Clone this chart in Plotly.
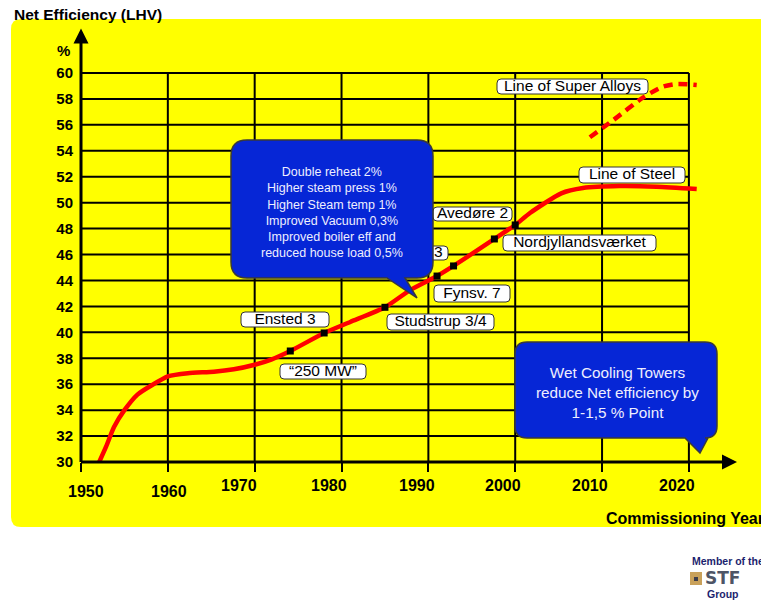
import plotly.graph_objects as go

# ------------------------------------------------------------------ data
steel_years = [1952.1, 1952.9, 1953.8, 1955.0, 1956.5, 1958.1, 1960.0, 1962.3, 1965.3,
               1967.6, 1970.0, 1971.9, 1974.1, 1978.0, 1981.0, 1985.0, 1987.9, 1991.0,
               1992.9, 1997.6, 2000.0, 2001.7, 2005.3, 2007.8, 2012.0, 2016.3, 2020.9]
steel_eff = [30.0, 31.2, 32.7, 34.0, 35.2, 35.9, 36.6, 36.85, 36.96,
             37.15, 37.5, 37.9, 38.56, 39.95, 40.8, 41.93, 43.26, 44.34,
             45.12, 47.2, 48.28, 49.2, 50.72, 51.13, 51.28, 51.23, 51.05]

alloy_years = [2008.6, 2011.3, 2014.7, 2017.0, 2018.6, 2020.9]
alloy_eff = [55.04, 56.37, 58.1, 58.94, 59.15, 59.07]

plant_years = [1974.1, 1978.0, 1985.0, 1991.0, 1992.9, 1997.6, 2000.0]
plant_eff = [38.56, 39.95, 41.93, 44.34, 45.12, 47.2, 48.28]

label_texts = ["Line of Super Alloys", "Line of Steel", "Avedøre 2", "Esbjerg 3",
               "Nordjyllandsværket", "Fynsv. 7", "Studstrup 3/4", "Ensted 3", "\u201c250 MW\u201d"]

year_ticks = [1950, 1960, 1970, 1980, 1990, 2000, 2010, 2020]
year_labels = ["1950", "1960", "1970", "1980", "1990", "2000", "2010", "2020"]
eff_ticks = [30, 32, 34, 36, 38, 40, 42, 44, 46, 48, 50, 52, 54, 56, 58, 60]
eff_labels = ["30", "32", "34", "36", "38", "40", "42", "44", "46", "48",
              "50", "52", "54", "56", "58", "60"]

callout1_text = ("Double reheat 2%<br>Higher steam press 1%<br>Higher Steam temp 1%<br>"
                 "Improved Vacuum 0,3%<br>Improved boiler eff and<br>reduced house load 0,5%")
callout2_text = "Wet Cooling Towers<br>reduce Net efficiency by<br>1-1,5 % Point"

# ------------------------------------------------------------------ layout geometry (pixels)
W, H = 761, 600
L, R, T, B = 81, 20, 28, 138
PW, PH = W - L - R, H - T - B
X_RANGE = [1950, 2026]
Y_RANGE = [30, 30 + PH / 12.967]

def xd(px):
    return X_RANGE[0] + (px - L) * (X_RANGE[1] - X_RANGE[0]) / PW

def yd(py):
    return Y_RANGE[0] + (H - B - py) * (Y_RANGE[1] - Y_RANGE[0]) / PH

def xp(px):
    return (px - L) / PW

def yp(py):
    return (H - B - py) / PH

def rpath(x0, y0, x1, y1, r, fx, fy, tail=None):
    p = f"M{fx(x0 + r)},{fy(y0)} L{fx(x1 - r)},{fy(y0)} Q{fx(x1)},{fy(y0)} {fx(x1)},{fy(y0 + r)}"
    p += f" L{fx(x1)},{fy(y1 - r)} Q{fx(x1)},{fy(y1)} {fx(x1 - r)},{fy(y1)}"
    if tail:
        br, tx, ty, bl = tail
        p += f" L{fx(br)},{fy(y1)} L{fx(tx)},{fy(ty)} L{fx(bl)},{fy(y1)}"
    p += f" L{fx(x0 + r)},{fy(y1)} Q{fx(x0)},{fy(y1)} {fx(x0)},{fy(y1 - r)}"
    p += f" L{fx(x0)},{fy(y0 + r)} Q{fx(x0)},{fy(y0)} {fx(x0 + r)},{fy(y0)} Z"
    return p

FONT = "Arial, Liberation Sans, sans-serif"
BLUE = "#0626D6"
LIGHT = "#EEEEFF"

# label boxes in pixels (x0, y0, x1, y1)
label_boxes = [(497, 79, 648, 94), (579, 167, 685, 183), (433, 207, 512, 221),
               (372, 246, 448, 260), (503, 235, 656, 251), (434, 285, 510, 302),
               (387, 314, 494, 330), (241, 312, 329, 327), (280, 364, 366, 379)]

shapes = []
# yellow panel
shapes.append(dict(type="path", xref="paper", yref="paper", layer="below",
                   path=rpath(11, 19, 790, 527, 10, xp, yp),
                   fillcolor="#FFFF00", line=dict(width=0)))
# grid
for v in eff_ticks[1:]:
    shapes.append(dict(type="line", xref="x", yref="y", layer="below",
                       x0=year_ticks[0], x1=year_ticks[-1], y0=v, y1=v,
                       line=dict(color="black", width=2)))
for v in year_ticks[1:]:
    shapes.append(dict(type="line", xref="x", yref="y", layer="below",
                       x0=v, x1=v, y0=eff_ticks[0], y1=eff_ticks[-1],
                       line=dict(color="black", width=2)))
# label boxes
for (x0, y0, x1, y1) in label_boxes:
    shapes.append(dict(type="path", xref="x", yref="y", layer="below",
                       path=rpath(x0, y0, x1, y1, 4, xd, yd),
                       fillcolor="white", line=dict(color="#333333", width=1)))
# callouts
shapes.append(dict(type="path", xref="x", yref="y", layer="above",
                   path=rpath(231, 140, 433, 278, 16, xd, yd, tail=(405, 417, 298, 387)),
                   fillcolor=BLUE, line=dict(color="#3a3a3a", width=1.5)))
shapes.append(dict(type="path", xref="x", yref="y", layer="above",
                   path=rpath(515, 342, 717, 438, 12, xd, yd, tail=(708, 700, 453, 685)),
                   fillcolor=BLUE, line=dict(color="#3a3a3a", width=1.5)))
# logo blocks
shapes.append(dict(type="rect", xref="paper", yref="paper", layer="above",
                   x0=xp(690), x1=xp(702), y0=yp(585), y1=yp(572),
                   fillcolor="#C9A15A", line=dict(width=0)))
shapes.append(dict(type="rect", xref="paper", yref="paper", layer="above",
                   x0=xp(694), x1=xp(698), y0=yp(581), y1=yp(577),
                   fillcolor="#3d3d4a", line=dict(width=0)))

fig = go.Figure()
fig.add_trace(go.Scatter(x=steel_years, y=steel_eff, mode="lines",
                         line=dict(color="#FF0000", width=4.5, shape="spline", smoothing=0.6),
                         hoverinfo="skip"))
fig.add_trace(go.Scatter(x=alloy_years, y=alloy_eff, mode="lines",
                         line=dict(color="#FF0000", width=4.5, dash="9px,6px",
                                   shape="spline", smoothing=0.6),
                         hoverinfo="skip"))
fig.add_trace(go.Scatter(x=plant_years, y=plant_eff, mode="markers",
                         marker=dict(symbol="square", size=7, color="black"),
                         hoverinfo="skip"))
fig.add_trace(go.Scatter(x=[xd((b[0] + b[2]) / 2) for b in label_boxes],
                         y=[yd((b[1] + b[3]) / 2 + 0.5) for b in label_boxes],
                         text=label_texts, mode="text", textposition="middle center",
                         textfont=dict(family=FONT, size=15.5, color="black"),
                         cliponaxis=False, hoverinfo="skip"))

ann = []
# axis arrows
ann.append(dict(x=xd(737), y=eff_ticks[0], ax=xd(79.5), ay=eff_ticks[0], xref="x", yref="y",
                axref="x", ayref="y", text="", showarrow=True, arrowhead=2, arrowsize=1,
                arrowwidth=3, arrowcolor="black", standoff=0, startstandoff=0))
ann.append(dict(x=year_ticks[0], y=yd(28.5), ax=year_ticks[0], ay=yd(463.5), xref="x", yref="y",
                axref="x", ayref="y", text="", showarrow=True, arrowhead=2, arrowsize=1,
                arrowwidth=3, arrowcolor="black", standoff=0, startstandoff=0))
# x tick labels
xshift = [5, 1, -16, -13, -11, -12, -12, -12]
ypos = [491, 491, 485, 485, 485, 485, 485, 485]
for v, lab, s, yy in zip(year_ticks, year_labels, xshift, ypos):
    ann.append(dict(x=v, y=yp(yy), xref="x", yref="paper", text=lab, showarrow=False,
                    xshift=s, xanchor="center", yanchor="middle",
                    font=dict(family=FONT, size=16, color="black", weight="bold")))
# titles
ann.append(dict(x=xp(12), y=yp(14), xref="paper", yref="paper", text="Net Efficiency (LHV)",
                showarrow=False, xanchor="left", yanchor="middle",
                font=dict(family=FONT, size=15.5, color="black", weight="bold")))
ann.append(dict(x=xp(63), y=yp(50), xref="paper", yref="paper", text="%",
                showarrow=False, xanchor="center", yanchor="middle",
                font=dict(family=FONT, size=15, color="black", weight="bold")))
ann.append(dict(x=xp(604), y=yp(518), xref="paper", yref="paper", text="Commissioning Year",
                showarrow=False, xanchor="left", yanchor="middle",
                font=dict(family=FONT, size=16, color="black", weight="bold")))
# callout texts
ann.append(dict(x=xp(332), y=yp(212), xref="paper", yref="paper", text=callout1_text,
                showarrow=False, xanchor="center", yanchor="middle", align="center",
                font=dict(family=FONT, size=12.5, color=LIGHT)))
ann.append(dict(x=xp(617), y=yp(392.5), xref="paper", yref="paper", text=callout2_text,
                showarrow=False, xanchor="center", yanchor="middle", align="center",
                font=dict(family=FONT, size=15.3, color=LIGHT)))
# logo texts
ann.append(dict(x=xp(690), y=yp(561), xref="paper", yref="paper", text="Member of the",
                showarrow=False, xanchor="left", yanchor="middle",
                font=dict(family=FONT, size=10.5, color="#1C1F6E", weight="bold")))
ann.append(dict(x=xp(703), y=yp(578), xref="paper", yref="paper", text="STF",
                showarrow=False, xanchor="left", yanchor="middle",
                font=dict(family="DejaVu Sans, sans-serif", size=17, color="#4E5566", weight="bold")))
ann.append(dict(x=xp(723), y=yp(594), xref="paper", yref="paper", text="Group",
                showarrow=False, xanchor="center", yanchor="middle",
                font=dict(family=FONT, size=10.5, color="#1C1F6E", weight="bold")))

fig.update_layout(
    width=W, height=H, margin=dict(l=L, r=R, t=T, b=B, autoexpand=False),
    paper_bgcolor="white", plot_bgcolor="rgba(0,0,0,0)",
    showlegend=False, hovermode=False,
    shapes=shapes, annotations=ann,
    xaxis=dict(range=X_RANGE, tickvals=year_ticks, showticklabels=False,
               ticks="outside", ticklen=9, tickwidth=2, tickcolor="black",
               showgrid=False, zeroline=False, showline=False, fixedrange=True),
    yaxis=dict(range=Y_RANGE, tickvals=eff_ticks, ticktext=eff_labels,
               ticks="", ticklabelstandoff=7,
               tickfont=dict(family=FONT, size=15, color="black", weight="bold"),
               showgrid=False, zeroline=False, showline=False, fixedrange=True),
)

fig.write_html("out.html")
